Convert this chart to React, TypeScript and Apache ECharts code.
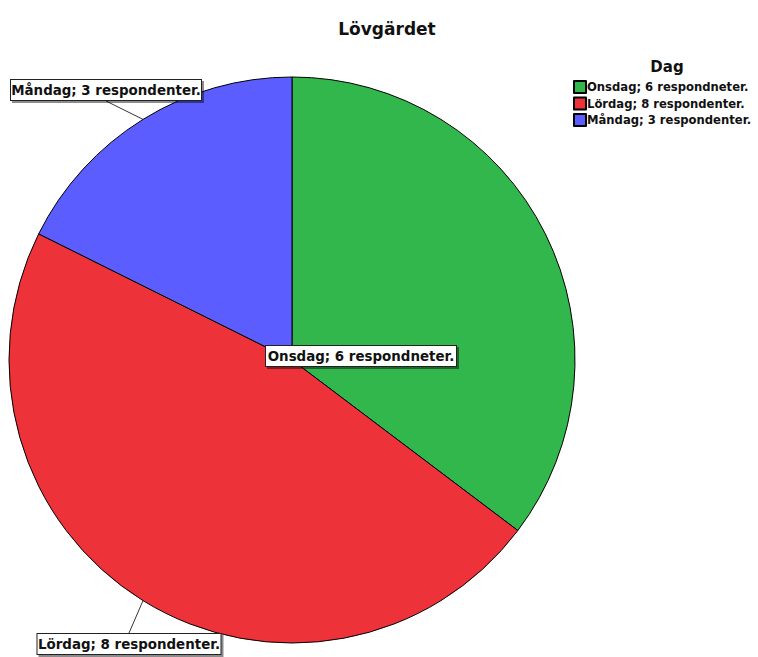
import React, { useEffect, useRef } from "react";
import * as echarts from "echarts";

const chartTitle = "Lövgärdet";
const legendTitle = "Dag";
const categories = ["Onsdag; 6 respondneter.", "Lördag; 8 respondenter.", "Måndag; 3 respondenter."];
const values = [6, 8, 3];
const colors = ["#31b74c", "#ee3239", "#5b5dff"];

export default function App() {
  const ref = useRef<HTMLDivElement>(null);
  useEffect(() => {
    const chart = echarts.init(ref.current!, null, { renderer: "svg" });
    const font = "'DejaVu Sans', Verdana, sans-serif";
    const labelPos: Record<number, [number, number]> = {
      0: [361, 356],
      1: [129, 644],
      2: [106, 90],
    };
    const labelWidths = [184, 177, 184];
    chart.setOption({
      animation: false,
      backgroundColor: "#fff",
      title: [
        {
          text: chartTitle,
          left: 382,
          top: 15,
          textAlign: "center",
          textStyle: { fontFamily: font, fontSize: 17, fontWeight: "bold", color: "#111" },
        },
        {
          text: legendTitle,
          left: 662,
          top: 54,
          textAlign: "center",
          textStyle: { fontFamily: font, fontSize: 15, fontWeight: "bold", color: "#111" },
        },
      ],
      legend: {
        orient: "vertical",
        left: 568,
        top: 75,
        itemWidth: 12,
        itemHeight: 12,
        itemGap: 2.5,
        icon: "rect",
        textStyle: {
          fontFamily: font,
          fontSize: 11.6,
          fontWeight: "bold",
          color: "#111",
          padding: [0, 0, 0, -4],
        },
        data: categories,
      },
      series: [
        {
          type: "pie",
          center: [292, 360],
          radius: 283,
          startAngle: 90,
          clockwise: true,
          color: colors,
          itemStyle: { borderColor: "#000", borderWidth: 1 },
          label: {
            show: true,
            position: "outside",
            formatter: "{b}",
            overflow: "none",
            fontFamily: font,
            fontSize: 13.4,
            fontWeight: "bold",
            color: "#111",
            align: "center",
            backgroundColor: "#fff",
            borderColor: "#222",
            borderWidth: 1,
            padding: [4, 3, 3, 3],
            shadowColor: "rgba(0,0,0,0.45)",
            shadowOffsetX: 2,
            shadowOffsetY: 2,
            shadowBlur: 1,
          },
          labelLine: { show: true, length: 20, length2: 0, lineStyle: { color: "#333", width: 1 } },
          labelLayout: (p: any) => {
            const pos = labelPos[p.dataIndex];
            return { x: pos[0], y: pos[1], align: "center", verticalAlign: "middle" };
          },
          emphasis: { disabled: true },
          data: categories.map((c, i) => ({
            name: c,
            value: values[i],
            label: { width: labelWidths[i] },
            ...(i === 0 ? { labelLine: { show: false } } : {}),
          })),
        },
      ],
    });
    return () => chart.dispose();
  }, []);
  return <div ref={ref} style={{ position: "fixed", left: 0, top: 0, width: 758, height: 657 }} />;
}
